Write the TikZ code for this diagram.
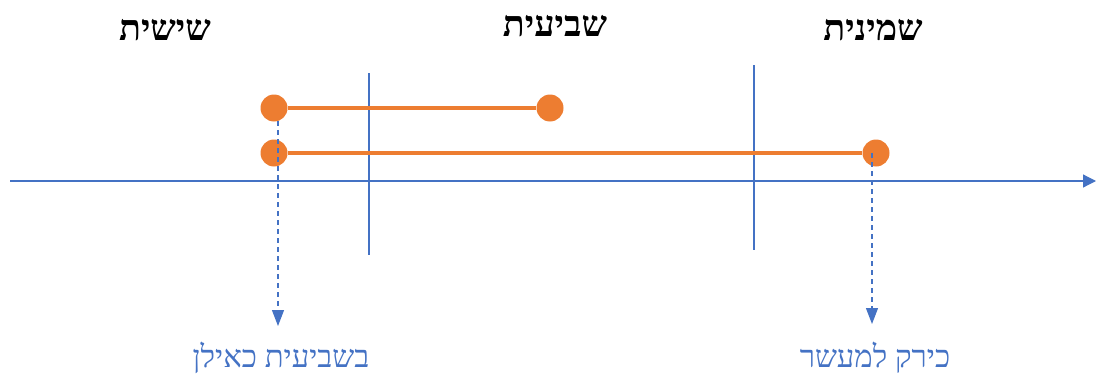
\documentclass[tikz,border=0pt]{standalone}
\usepackage{fontspec}
\newfontfamily\hebfont[Script=Hebrew]{Liberation Serif}
\TeXXeTstate=1
\usetikzlibrary{arrows.meta, positioning}
\definecolor{orng}{HTML}{ED7D31}
\definecolor{blu}{HTML}{4472C4}

\begin{document}
\begin{tikzpicture}[
    x=1pt, y=-1pt,
    every node/.style={font=\hebfont},
    title/.style={font=\hebfont\bfseries\fontsize{36}{38}\selectfont},
    note/.style={text=blu, font=\hebfont\fontsize{31}{33}\selectfont},
    dot/.style={circle, fill=orng, inner sep=0pt, minimum size=27pt},
    seg/.style={orng, line width=3.8pt},
    axis/.style={blu, line width=1.2pt, -{Triangle[length=13pt,width=13pt]}},
    divider/.style={blu, line width=1.4pt},
    pointer/.style={blu, line width=1.2pt, dash pattern=on 5pt off 4pt,
        -{Triangle[length=16pt,width=12pt]}}
]
\useasboundingbox (0,0) rectangle (1096,380);

% time axis
\coordinate (ax0) at (10,181);
\coordinate (ax1) at (1096,181);
\draw[axis] (ax0) -- (ax1);

% year dividers
\coordinate (d1t) at (369,73);
\coordinate (d1b) at (369,255);
\coordinate (d2t) at (754,65);
\coordinate (d2b) at (754,250);
\draw[divider] (d1t) -- (d1b);
\draw[divider] (d2t) -- (d2b);

% year titles
\node[title] (sixth)   at (165,30) {\beginR שישית\endR};
\node[title] (seventh) at (555,26) {\beginR שביעית\endR};
\node[title] (eighth)  at (873,30) {\beginR שמינית\endR};

% intervals
\node[dot] (a1) at (274,108) {};
\node[dot] (a2) at (550,108) {};
\node[dot] (b1) at (274,153) {};
\node[dot] (b2) at (876,153) {};
\draw[seg] (a1) -- (a2);
\draw[seg] (b1) -- (b2);

% pointers to rulings
\coordinate (p1s) at (278,121);
\coordinate (p1e) at (278,326);
\coordinate (p2s) at (872,153);
\coordinate (p2e) at (872,324);
\draw[pointer] (p1s) -- (p1e);
\draw[pointer] (p2s) -- (p2e);

\node[note] (rule1) at (281,358) {\beginR בשביעית כאילן\endR};
\node[note] (rule2) at (875,358) {\beginR כירק למעשר\endR};
\end{tikzpicture}
\end{document}
